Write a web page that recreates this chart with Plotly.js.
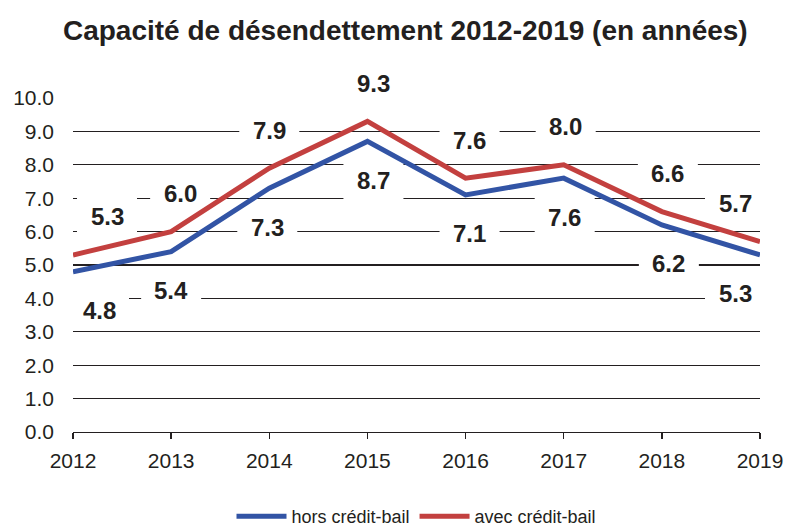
<!DOCTYPE html>
<html>
<head>
<meta charset="utf-8">
<script src="https://cdn.plot.ly/plotly-3.0.1.min.js"></script>
<style>html,body{margin:0;padding:0;background:#fff;}#chart{width:787px;height:527px;}</style>
</head>
<body>
<div id="chart"></div>
<script>
var years = ['2012','2013','2014','2015','2016','2017','2018','2019'];
var horsCreditBail = [4.8, 5.4, 7.3, 8.7, 7.1, 7.6, 6.2, 5.3];
var avecCreditBail = [5.3, 6.0, 7.9, 9.3, 7.6, 8.0, 6.6, 5.7];
var seriesNames = ['hors crédit-bail', 'avec crédit-bail'];
var yTickVals = [0,1,2,3,4,5,6,7,8,9,10];
var yTickText = ['0.0','1.0','2.0','3.0','4.0','5.0','6.0','7.0','8.0','9.0','10.0'];

// label offsets (style only)
var xShiftRed = [34, 9, 0, 6, 4, 2, 6, -25];
var xShiftBlue = [26, 0, -2, 6, 4, 1, 7, -25];
var yShiftRed = 38, yShiftBlue = -39;
var boxW = 60, boxH = 40;

var blue = '#3254A5', red = '#C3403F';

var traces = [
  {x: years, y: horsCreditBail, name: seriesNames[0], type: 'scatter', mode: 'lines',
   line: {color: blue, width: 5}},
  {x: years, y: avecCreditBail, name: seriesNames[1], type: 'scatter', mode: 'lines',
   line: {color: red, width: 5}}
];

var annotations = [];
var shapes = [];
var labFont = {family: 'Liberation Sans, Arial, sans-serif', size: 24, color: '#231F20'};
function addLabel(i, v, xs, ys) {
  annotations.push({x: i, y: v, xref: 'x', yref: 'y', text: '<b>' + v.toFixed(1) + '</b>',
    showarrow: false, yshift: ys, xshift: xs, font: labFont});
  shapes.push({type: 'rect', layer: 'between', xref: 'x', yref: 'y',
    xsizemode: 'pixel', ysizemode: 'pixel', xanchor: i, yanchor: v,
    x0: xs - boxW / 2, x1: xs + boxW / 2, y0: ys - boxH / 2, y1: ys + boxH / 2,
    fillcolor: '#ffffff', line: {width: 0}});
}
for (var i = 0; i < years.length; i++) {
  addLabel(i, avecCreditBail[i], xShiftRed[i], yShiftRed);
  addLabel(i, horsCreditBail[i], xShiftBlue[i], yShiftBlue);
}

var layout = {
  width: 787, height: 527,
  margin: {l: 73, r: 27, t: 98, b: 95},
  paper_bgcolor: '#fff', plot_bgcolor: '#fff',
  title: {text: '<b>Capacité de désendettement 2012-2019 (en années)</b>',
    font: {family: 'Liberation Sans Narrow, Arial Narrow, Liberation Sans, sans-serif', size: 28, color: '#231F20'},
    x: 0.515, xanchor: 'center', y: 0.943, yanchor: 'middle'},
  xaxis: {type: 'category', range: [0, 7], showgrid: false, zeroline: false,
    showline: true, linecolor: '#231F20', linewidth: 1.3,
    ticks: 'outside', ticklen: 6, tickcolor: '#231F20', tickwidth: 1.3,
    ticklabelstandoff: 3,
    tickfont: {family: 'Liberation Sans, Arial, sans-serif', size: 21, color: '#231F20'}},
  yaxis: {range: [0, 10], tickvals: yTickVals, ticktext: yTickText, showgrid: true,
    gridcolor: '#231F20', gridwidth: 1.3, zeroline: false, showline: false, ticks: '',
    ticklabelstandoff: 18,
    tickfont: {family: 'Liberation Sans, Arial, sans-serif', size: 21, color: '#231F20'}},
  legend: {orientation: 'h', x: 0.5, xanchor: 'center', xref: 'paper', yref: 'container', y: 0.02, yanchor: 'middle',
    font: {family: 'Liberation Sans, Arial, sans-serif', size: 18, color: '#231F20'},
    itemwidth: 50},
  annotations: annotations,
  shapes: shapes,
  showlegend: true
};

Plotly.newPlot('chart', traces, layout, {displayModeBar: false, staticPlot: true});
</script>
</body>
</html>
